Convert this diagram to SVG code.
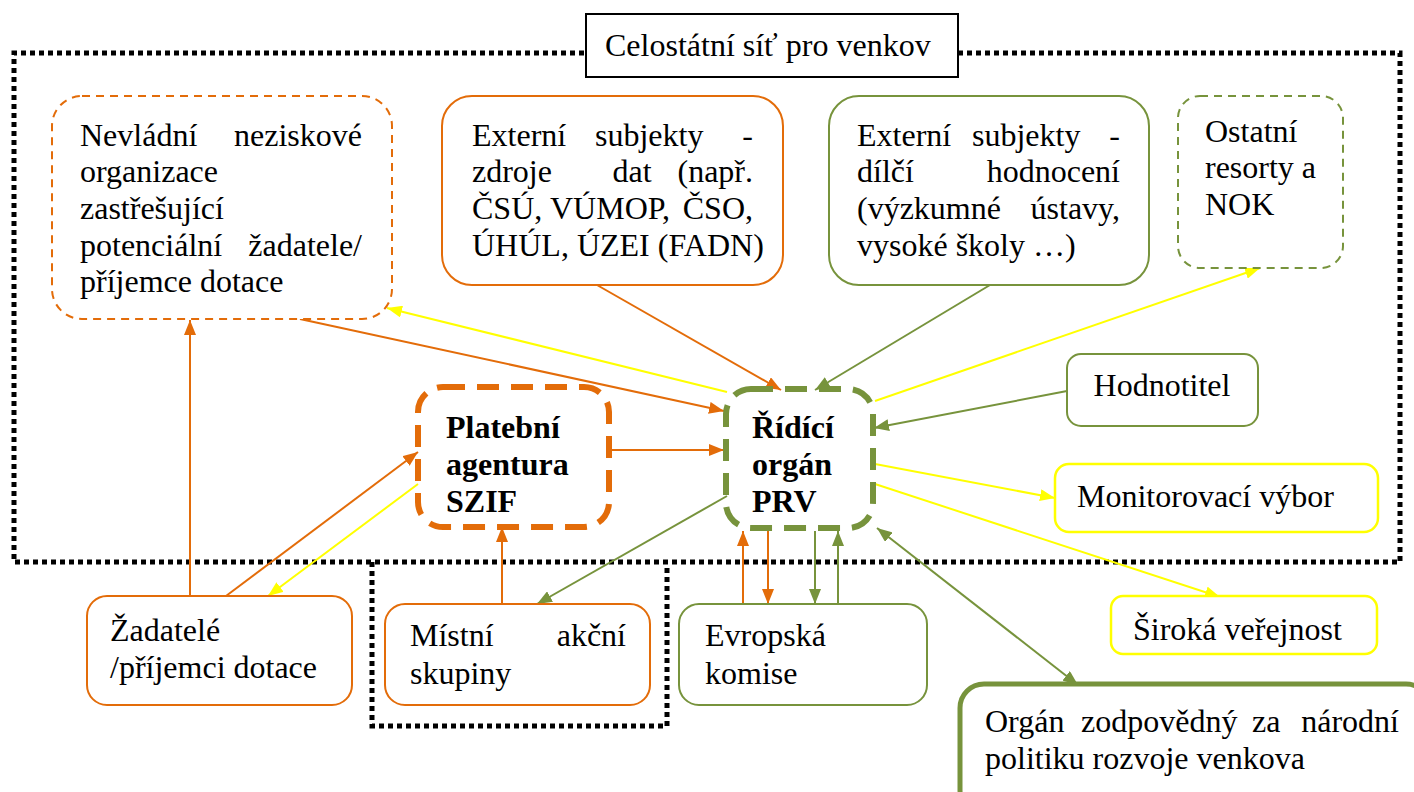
<svg xmlns="http://www.w3.org/2000/svg" width="1414" height="792" viewBox="0 0 1414 792" font-family="'Liberation Serif', Tinos, 'Times New Roman', 'Noto Serif', 'DejaVu Serif', serif">
<style>
text{font-family:'Liberation Serif',Tinos,'Times New Roman','Noto Serif','DejaVu Serif',serif;font-size:32px;fill:#000}
.b{font-weight:bold}
.or{fill:#fff;stroke:#E36C09;stroke-width:2}
.gr{fill:#fff;stroke:#77933C;stroke-width:2}
.ye{fill:#fff;stroke:#FFFF00;stroke-width:2.5}
.dash{stroke-dasharray:8 6}
.dot{fill:none;stroke:#000;stroke-width:5;stroke-dasharray:5 4}
.co{stroke:#E36C09;stroke-width:2;fill:none;marker-end:url(#ao)}
.cg{stroke:#77933C;stroke-width:2;fill:none;marker-end:url(#ag)}
.cy{stroke:#FFFF00;stroke-width:2;fill:none;marker-end:url(#ay)}
.e{text-anchor:end}
.m{text-anchor:middle}
</style>
<defs>
<marker id="ao" viewBox="0 0 15 12" refX="15" refY="6" markerWidth="15" markerHeight="12" markerUnits="userSpaceOnUse" orient="auto-start-reverse"><path d="M0,0 L15,6 L0,12 z" fill="#E36C09"/></marker>
<marker id="ag" viewBox="0 0 15 12" refX="15" refY="6" markerWidth="15" markerHeight="12" markerUnits="userSpaceOnUse" orient="auto-start-reverse"><path d="M0,0 L15,6 L0,12 z" fill="#77933C"/></marker>
<marker id="ay" viewBox="0 0 15 12" refX="15" refY="6" markerWidth="15" markerHeight="12" markerUnits="userSpaceOnUse" orient="auto-start-reverse"><path d="M0,0 L15,6 L0,12 z" fill="#FFFF00"/></marker>
</defs>
<rect width="1414" height="792" fill="#fff"/>

<g id="frames">
<path class="dot" d="M958,53 H1400 V562 H14 V53 H586"/>
<path class="dot" d="M372,562 V726 H667 V568"/>
</g>

<g id="title">
<rect x="586" y="14" width="372" height="63" fill="#fff" stroke="#000" stroke-width="2"/>
<text x="605" y="56">Celostátní síť pro venkov</text>
</g>

<g id="connectors">
<line class="co" x1="300" y1="319" x2="724" y2="411"/>
<line class="cy" x1="727" y1="392" x2="387" y2="308"/>
<line class="co" x1="597" y1="285" x2="781" y2="390"/>
<line class="cg" x1="990" y1="285" x2="815" y2="390"/>
<line class="cy" x1="875" y1="401" x2="1260" y2="268"/>
<line class="cg" x1="1067" y1="391" x2="874" y2="428"/>
<line class="cy" x1="875" y1="464" x2="1055" y2="498"/>
<line class="cy" x1="875" y1="484" x2="1220" y2="597"/>
<line class="cg" x1="877" y1="528" x2="1078" y2="685" style="marker-start:url(#ag)"/>
<line class="co" x1="609" y1="450" x2="724" y2="450"/>
<line class="co" x1="190" y1="596" x2="190" y2="320"/>
<line class="co" x1="226" y1="596" x2="418" y2="452"/>
<line class="cy" x1="418" y1="484" x2="268" y2="596"/>
<line class="co" x1="502" y1="604" x2="502" y2="527"/>
<line class="cg" x1="727" y1="496" x2="537" y2="604"/>
<line class="co" x1="743" y1="604" x2="743" y2="531"/>
<line class="co" x1="768" y1="531" x2="768" y2="604"/>
<line class="cg" x1="815" y1="531" x2="815" y2="604"/>
<line class="cg" x1="838" y1="604" x2="838" y2="531"/>
</g>

<g id="nevladni">
<rect class="or dash" x="52" y="96" width="340" height="223" rx="30"/>
<text x="80" y="146">Nevládní</text><text class="e" x="362" y="146">neziskové</text>
<text x="80" y="182">organizace</text>
<text x="80" y="219">zastřešující</text>
<text x="80" y="256">potenciální</text><text class="e" x="362" y="256">žadatele/</text>
<text x="80" y="292">příjemce dotace</text>
</g>

<g id="zdroje">
<rect class="or" x="442" y="96" width="341" height="189" rx="30"/>
<text x="472" y="146">Externí</text><text x="595" y="146">subjekty</text><text class="e" x="753" y="146">-</text>
<text x="472" y="182">zdroje</text><text class="m" x="632" y="182">dat</text><text class="e" x="753" y="182">(např.</text>
<text x="472" y="219">ČSÚ,</text><text class="m" x="610" y="219">VÚMOP,</text><text class="e" x="753" y="219">ČSO,</text>
<text x="472" y="256">ÚHÚL, ÚZEI (FADN)</text>
</g>

<g id="hodnoceni">
<rect class="gr" x="829" y="96" width="320" height="189" rx="30"/>
<text x="857" y="146">Externí</text><text x="972" y="146">subjekty</text><text class="e" x="1120" y="146">-</text>
<text x="857" y="182">dílčí</text><text class="e" x="1120" y="182">hodnocení</text>
<text x="857" y="219">(výzkumné</text><text class="e" x="1120" y="219">ústavy,</text>
<text x="857" y="256">vysoké školy …)</text>
</g>

<g id="ostatni">
<rect class="gr dash" x="1178" y="96" width="165" height="172" rx="22"/>
<text x="1205" y="142">Ostatní</text>
<text x="1205" y="178">resorty a</text>
<text x="1205" y="215">NOK</text>
</g>

<g id="hodnotitel">
<rect class="gr" x="1067" y="354" width="191" height="72" rx="14"/>
<text class="m" x="1162" y="396">Hodnotitel</text>
</g>

<g id="monitorovaci">
<rect class="ye" x="1055" y="464" width="323" height="68" rx="14"/>
<text x="1077" y="507">Monitorovací výbor</text>
</g>

<g id="siroka">
<rect class="ye" x="1111" y="596" width="266" height="58" rx="12"/>
<text x="1133" y="640">Široká veřejnost</text>
</g>

<g id="organ">
<rect x="960" y="684" width="470" height="130" rx="24" fill="#fff" stroke="#77933C" stroke-width="5"/>
<text x="985" y="732">Orgán</text><text x="1081" y="732">zodpovědný</text><text x="1252" y="732">za</text><text class="e" x="1399" y="732">národní</text>
<text x="985" y="769">politiku rozvoje venkova</text>
</g>

<g id="evropska">
<rect class="gr" x="679" y="604" width="248" height="101" rx="20"/>
<text x="705" y="646">Evropská</text>
<text x="705" y="684">komise</text>
</g>

<g id="mas">
<rect class="or" x="385" y="604" width="265" height="101" rx="20"/>
<text x="410" y="646">Místní</text><text class="e" x="626" y="646">akční</text>
<text x="410" y="684">skupiny</text>
</g>

<g id="zadatele">
<rect class="or" x="87" y="596" width="265" height="109" rx="20"/>
<text x="110" y="641">Žadatelé</text>
<text x="110" y="678">/příjemci dotace</text>
</g>

<g id="platebni">
<rect x="418" y="387" width="191" height="140" rx="25" fill="none" stroke="#E36C09" stroke-width="6" stroke-dasharray="22 12"/>
<text class="b" x="446" y="438">Platební</text>
<text class="b" x="446" y="475">agentura</text>
<text class="b" x="446" y="512">SZIF</text>
</g>

<g id="ridici">
<rect x="726" y="389" width="147" height="139" rx="25" fill="none" stroke="#77933C" stroke-width="6" stroke-dasharray="22 12"/>
<text class="b" x="752" y="438">Řídící</text>
<text class="b" x="752" y="475">orgán</text>
<text class="b" x="752" y="512">PRV</text>
</g>
</svg>
